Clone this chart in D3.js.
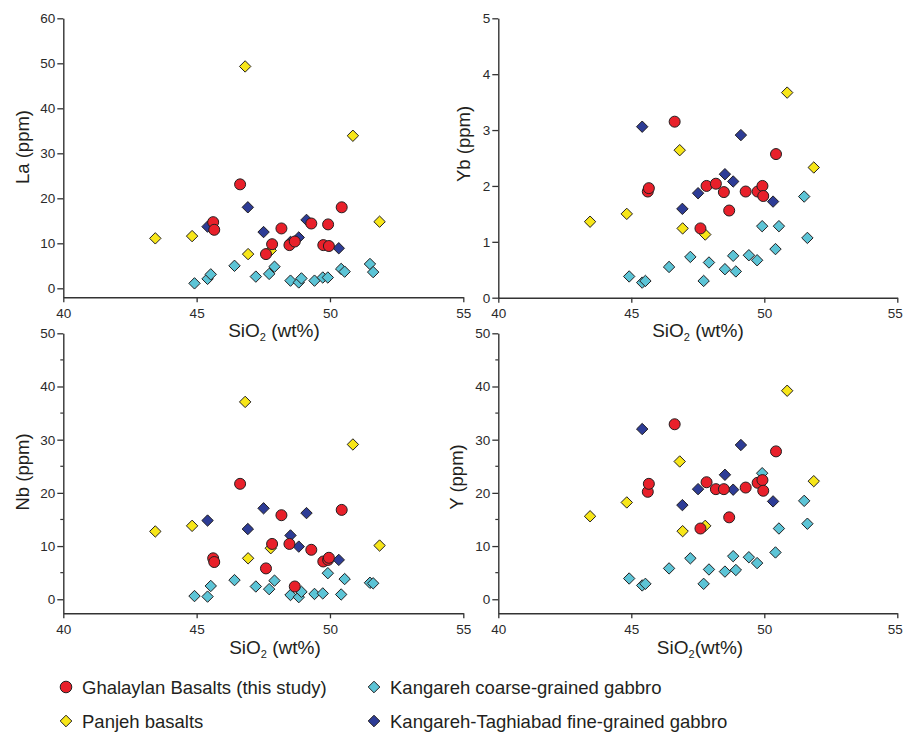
<!DOCTYPE html>
<html>
<head>
<meta charset="utf-8">
<script src="https://cdn.jsdelivr.net/npm/d3@7"></script>
<style>
  html, body { margin: 0; padding: 0; background: #fff; }
  svg { display: block; font-family: "Liberation Sans", Arial, Helvetica, sans-serif; }
</style>
</head>
<body>
<svg id="chart" width="903" height="732"></svg>
<script>
// ---------------- DATA ----------------
// Ghalaylan Basalts (this study)
const ghalSiO2 = [45.62, 45.66, 46.63, 47.60, 47.83, 48.18, 48.48, 48.68, 49.30, 49.75, 49.93, 49.96, 50.44];
const ghalLa   = [14.7, 13.0, 23.1, 7.6, 9.8, 13.3, 9.6, 10.4, 14.4, 9.6, 14.2, 9.4, 18.0];
const ghalYb   = [1.90, 1.96, 3.15, 1.24, 2.00, 2.04, 1.89, 1.56, 1.90, 1.90, 2.00, 1.82, 2.57];
const ghalNb   = [7.7, 7.0, 21.7, 5.8, 10.4, 15.8, 10.4, 2.4, 9.3, 7.1, 7.4, 7.8, 16.8];
const ghalY    = [20.2, 21.7, 32.9, 13.3, 22.0, 20.7, 20.7, 15.4, 21.0, 21.9, 22.4, 20.4, 27.8];

// Panjeh basalts
const panjSiO2 = [43.45, 44.83, 46.82, 46.93, 47.78, 50.86, 51.86];
const panjLa   = [11.1, 11.6, 49.3, 7.6, 8.4, 33.9, 14.8];
const panjYb   = [1.36, 1.50, 2.64, 1.24, 1.13, 3.67, 2.33];
const panjNb   = [12.75, 13.8, 37.1, 7.7, 9.6, 29.1, 10.1];
const panjY    = [15.6, 18.2, 25.9, 12.8, 13.8, 39.2, 22.2];

// Kangareh coarse-grained gabbro
const kcgSiO2 = [44.92, 45.41, 45.53, 46.42, 47.22, 47.72, 47.92, 48.52, 48.83, 48.93, 49.42, 49.73, 49.92, 50.42, 50.55, 51.50, 51.62];
const kcgLa   = [1.1, 2.1, 3.1, 5.0, 2.6, 3.2, 4.8, 1.7, 1.3, 2.2, 1.7, 2.4, 2.4, 4.3, 3.7, 5.4, 3.6];
const kcgYb   = [0.38, 0.27, 0.30, 0.55, 0.73, 0.30, 0.63, 0.51, 0.75, 0.47, 0.76, 0.67, 1.28, 0.87, 1.28, 1.81, 1.07];
const kcgNb   = [0.6, 0.5, 2.5, 3.6, 2.4, 1.9, 3.5, 0.8, 0.4, 1.4, 1.0, 1.1, 4.9, 0.9, 3.8, 3.1, 3.0];
const kcgY    = [3.9, 2.6, 2.9, 5.8, 7.7, 2.9, 5.6, 5.2, 8.1, 5.5, 7.9, 6.8, 23.7, 8.8, 13.3, 18.5, 14.2];

// Kangareh-Taghiabad fine-grained gabbro
const ktfSiO2 = [45.41, 46.92, 47.51, 48.52, 48.83, 49.12, 50.33];
const ktfLa   = [13.7, 18.0, 12.5, 10.3, 11.3, 15.2, 8.9];
const ktfYb   = [3.06, 1.59, 1.87, 2.21, 2.08, 2.91, 1.72];
const ktfNb   = [14.8, 13.2, 17.1, 12.0, 9.9, 16.2, 7.4];
const ktfY    = [32.0, 17.7, 20.7, 23.4, 20.6, 29.0, 18.4];

const xTicks = [40, 45, 50, 55];
const laTicks = [0, 10, 20, 30, 40, 50, 60];
const ybTicks = [0, 1, 2, 3, 4, 5];
const nbTicks = [0, 10, 20, 30, 40, 50];
const yTicks  = [0, 10, 20, 30, 40, 50];
const minorTicks50 = [5, 15, 25, 35, 45];

const legendLabels = ["Ghalaylan Basalts (this study)", "Panjeh basalts",
                      "Kangareh coarse-grained gabbro", "Kangareh-Taghiabad fine-grained gabbro"];

// ---------------- STYLE ----------------
const COL = { red: "#e8202a", yellow: "#f7e619", cyan: "#5cc4d6", blue: "#2d3c96" };
const STROKE = "#231f20";
const INK = "#231f20";

const series = [
  { key: "cyan",   shape: "diamond", color: COL.cyan,   x: kcgSiO2,  v: { La: kcgLa,  Yb: kcgYb,  Nb: kcgNb,  Y: kcgY } },
  { key: "yellow", shape: "diamond", color: COL.yellow, x: panjSiO2, v: { La: panjLa, Yb: panjYb, Nb: panjNb, Y: panjY } },
  { key: "blue",   shape: "diamond", color: COL.blue,   x: ktfSiO2,  v: { La: ktfLa,  Yb: ktfYb,  Nb: ktfNb,  Y: ktfY } },
  { key: "red",    shape: "circle",  color: COL.red,    x: ghalSiO2, v: { La: ghalLa, Yb: ghalYb, Nb: ghalNb, Y: ghalY } }
];

const panels = [
  { el: "La", title: "La (ppm)", xr: [63.3, 463.3], yr: [297.3, 18.3], yd: [-2, 60], ticks: laTicks, minor: null,
    titlePos: [29, 147], xlab: [274, 337], space: true, edge: false },
  { el: "Yb", title: "Yb (ppm)", xr: [498.3, 897.3], yr: [297.7, 18.3], yd: [0, 5], ticks: ybTicks, minor: null,
    titlePos: [470, 144], xlab: [698, 337], space: true, edge: true },
  { el: "Nb", title: "Nb (ppm)", xr: [63.3, 463.3], yr: [613.3, 333.3], yd: [-2.64, 50], ticks: nbTicks, minor: minorTicks50,
    titlePos: [29, 472], xlab: [275, 654], space: true, edge: false },
  { el: "Y", title: "Y (ppm)", xr: [498.3, 897.3], yr: [613.3, 333.3], yd: [-2.64, 50], ticks: yTicks, minor: minorTicks50,
    titlePos: [463, 477], xlab: [700, 654], space: false, edge: true }
];

const svg = d3.select("#chart");

function diamondPath(r) {
  return `M0,${-r}L${r},0L0,${r}L${-r},0Z`;
}

panels.forEach(p => {
  const x = d3.scaleLinear().domain([40, 55]).range(p.xr);
  const y = d3.scaleLinear().domain(p.yd).range(p.yr);
  const g = svg.append("g");

  // y axis
  const ya = g.append("g").attr("transform", `translate(${p.xr[0]},0)`)
    .call(d3.axisLeft(y).tickValues(p.ticks).tickSize(6).tickSizeOuter(0).tickPadding(2).tickFormat(d3.format("d")));
  // x axis
  const xa = g.append("g").attr("transform", `translate(0,${p.yr[0]})`)
    .call(d3.axisBottom(x).tickValues(xTicks).tickSize(5).tickSizeOuter(0).tickPadding(6).tickFormat(d3.format("d")));

  [ya, xa].forEach(a => {
    a.select(".domain").attr("stroke", "#333").attr("stroke-width", 1.4);
    a.selectAll(".tick line").attr("stroke", "#333").attr("stroke-width", 1.3);
    a.selectAll(".tick text").attr("fill", "#2a2a2a").style("font-size", "13.5px")
      .style("font-family", "'Liberation Sans', Arial, sans-serif");
  });
  if (p.edge) {
    // keep the last x label inside the page edge
    xa.selectAll(".tick").filter(d => d === 55).select("text")
      .attr("text-anchor", "end").attr("x", 5);
  }

  if (p.minor) {
    g.append("g").selectAll("line").data(p.minor).join("line")
      .attr("x1", p.xr[0] - 3).attr("x2", p.xr[0])
      .attr("y1", d => y(d)).attr("y2", d => y(d))
      .attr("stroke", "#333").attr("stroke-width", 1.2);
  }

  // y title
  g.append("text")
    .attr("transform", `translate(${p.titlePos[0]},${p.titlePos[1]}) rotate(-90)`)
    .attr("text-anchor", "middle")
    .attr("fill", INK)
    .style("font-size", "18.5px")
    .text(p.title);

  // x title with subscript
  const xt = g.append("text")
    .attr("x", p.xlab[0]).attr("y", p.xlab[1])
    .attr("text-anchor", "middle")
    .attr("fill", INK)
    .style("font-size", "19px");
  xt.append("tspan").text("SiO");
  xt.append("tspan").attr("dy", 4).style("font-size", "11px").text("2");
  xt.append("tspan").attr("dy", -4).text(p.space ? " (wt%)" : "(wt%)");

  // points
  series.forEach(s => {
    const data = s.x.map((xv, i) => ({ x: xv, v: s.v[p.el][i] }));
    const pg = g.append("g");
    if (s.shape === "circle") {
      pg.selectAll("circle").data(data).join("circle")
        .attr("cx", d => x(d.x)).attr("cy", d => y(d.v)).attr("r", 5.5)
        .attr("fill", s.color).attr("stroke", STROKE).attr("stroke-width", 1);
    } else {
      pg.selectAll("path").data(data).join("path")
        .attr("transform", d => `translate(${x(d.x)},${y(d.v)})`)
        .attr("d", diamondPath(5.7))
        .attr("fill", s.color).attr("stroke", STROKE).attr("stroke-width", 1);
    }
  });
});

// ---------------- LEGEND ----------------
const legendItems = [
  { label: legendLabels[0], shape: "circle",  color: COL.red,    x: 66,  y: 687 },
  { label: legendLabels[1], shape: "diamond", color: COL.yellow, x: 66,  y: 721 },
  { label: legendLabels[2], shape: "diamond", color: COL.cyan,   x: 374, y: 687 },
  { label: legendLabels[3], shape: "diamond", color: COL.blue,   x: 374, y: 721 }
];
const lg = svg.append("g");
legendItems.forEach(it => {
  if (it.shape === "circle") {
    lg.append("circle").attr("cx", it.x).attr("cy", it.y).attr("r", 5.8)
      .attr("fill", it.color).attr("stroke", STROKE).attr("stroke-width", 1);
  } else {
    lg.append("path").attr("transform", `translate(${it.x},${it.y})`).attr("d", diamondPath(5.8))
      .attr("fill", it.color).attr("stroke", STROKE).attr("stroke-width", 1);
  }
  lg.append("text").attr("x", it.x + 16).attr("y", it.y + 7)
    .attr("fill", INK).style("font-size", "18.5px").text(it.label);
});
</script>
</body>
</html>
